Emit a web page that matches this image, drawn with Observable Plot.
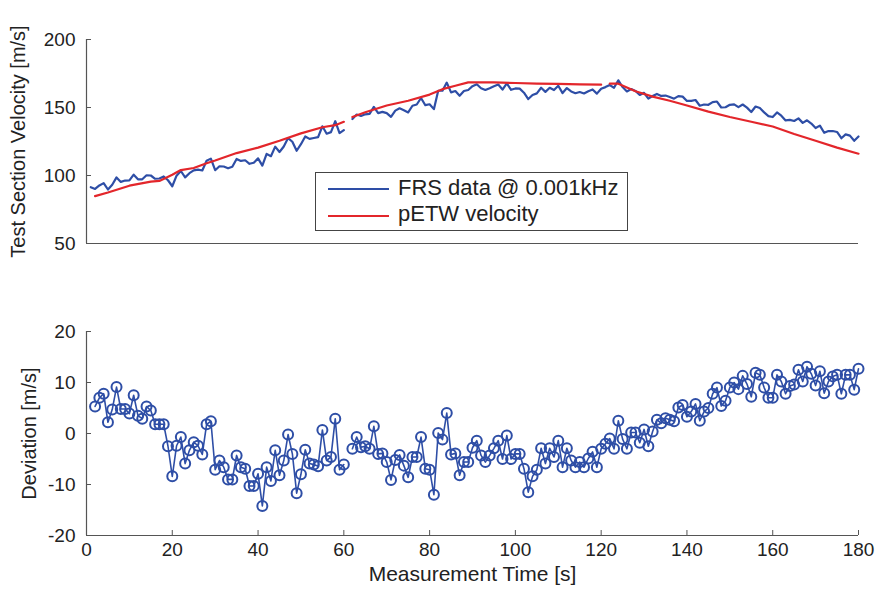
<!DOCTYPE html>
<html>
<head>
<meta charset="utf-8">
<script src="https://cdn.jsdelivr.net/npm/d3@7"></script>
<script src="https://cdn.jsdelivr.net/npm/@observablehq/plot@0.6"></script>
<style>
  html, body { margin: 0; padding: 0; background: #fff; }
  #wrap { position: relative; width: 879px; height: 595px; font-family: "Liberation Sans", Arial, sans-serif; overflow: hidden; }
  #top, #bottom { position: absolute; left: 0; }
  #top { top: 0; }
  #bottom { top: 290px; }
  #legend { position: absolute; left: 315px; top: 172px; width: 313px; height: 59px; border: 1.5px solid #444; background: #fff; box-sizing: border-box; }
  .item { position: absolute; left: 0; font-size: 22px; color: #222; white-space: nowrap; }
  .item .sw { position: absolute; left: 12px; width: 61px; height: 0; border-top: 2.5px solid; }
  .item .lb { position: absolute; left: 82px; }
</style>
</head>
<body>
<div id="wrap">
  <div id="top"></div>
  <div id="bottom"></div>
  <div id="legend">
    <div class="item" style="top:15px"><span class="sw" style="border-color:#2e4ea6;top:0px"></span><span class="lb" style="top:-13px">FRS data @ 0.001kHz</span></div>
    <div class="item" style="top:42px"><span class="sw" style="border-color:#e3262b;top:0px"></span><span class="lb" style="top:-14px">pETW velocity</span></div>
  </div>
</div>
<script>
// Measurement times (s), one sample per second
const timeStart = 1;
// FRS measured test-section velocity [m/s], t = 1..180 (null = no data)
const frsVelocity = [
  91.4, 90.1, 92.7, 94.4, 89.7, 93.2, 98.6, 95.3, 96.3, 96.4,
  100.6, 97.2, 97.2, 100.2, 100.0, 97.6, 97.8, 99.3, 96.5, 92.1,
  99.9, 103.3, 98.6, 101.7, 103.8, 104.3, 103.7, 110.8, 112.4, 103.9,
  106.8, 106.6, 105.3, 106.4, 112.2, 110.7, 111.2, 108.6, 109.4, 112.6,
  107.3, 115.9, 114.2, 121.2, 117.3, 121.3, 127.5, 124.8, 118.2, 123.0,
  128.7, 126.9, 127.6, 128.2, 136.2, 130.7, 131.9, 139.9, 131.2, 133.4,
  null, 141.5, 144.8, 143.8, 145.0, 145.3, 150.5, 145.9, 146.8, 145.9,
  143.1, 147.7, 149.4, 148.0, 146.4, 151.3, 152.2, 157.0, 151.7, 152.4,
  148.8, 162.3, 162.3, 168.3, 161.1, 162.1, 158.6, 162.1, 162.9, 165.7,
  167.1, 164.2, 162.9, 164.2, 165.6, 166.9, 163.2, 167.7, 163.0, 164.0,
  163.9, 160.9, 156.2, 159.2, 160.4, 164.5, 161.5, 164.5, 162.8, 166.0,
  160.6, 164.3, 161.8, 160.5, 161.4, 160.3, 162.0, 163.3, 160.2, 163.8,
  165.0, 166.5, 164.5, 170.0, 165.0, 161.8, 163.6, 162.2, 159.2, 160.8,
  156.5, 158.4, 160.0, 158.5, 158.8, 157.7, 156.5, 158.4, 158.0, 154.8,
  154.9, 155.5, 151.3, 152.2, 152.0, 154.0, 154.4, 150.0, 150.2, 152.0,
  152.3, 150.3, 152.2, 149.9, 146.7, 150.7, 149.6, 146.4, 143.7, 143.0,
  146.4, 144.0, 140.5, 140.9, 140.1, 142.0, 138.7, 140.6, 138.2, 134.9,
  136.7, 131.4, 132.7, 132.7, 132.0, 127.4, 130.2, 129.3, 125.5, 128.7
];
// Deviation FRS - pETW [m/s], t = 1..180 (null = no data)
const deviation = [
  null, 5.3, 7.0, 7.8, 2.2, 4.7, 9.1, 4.8, 4.8, 3.9,
  7.5, 3.5, 2.9, 5.3, 4.5, 1.8, 1.8, 1.8, -2.5, -8.4,
  -2.4, -0.7, -5.9, -3.3, -1.7, -2.4, -4.1, 1.8, 2.4, -7.1,
  -5.3, -6.6, -9.0, -9.0, -4.3, -6.6, -6.9, -10.3, -10.3, -7.9,
  -14.2, -6.6, -9.3, -3.3, -8.2, -5.3, -0.2, -4.0, -11.7, -8.0,
  -3.2, -5.9, -6.1, -6.4, 0.7, -5.3, -4.6, 2.9, -7.1, -6.1,
  null, -3.0, -0.7, -2.7, -2.5, -3.0, 1.4, -4.0, -3.9, -5.6,
  -9.1, -5.2, -4.2, -6.3, -8.6, -4.6, -4.6, -0.7, -6.9, -7.1,
  -12.0, 0.1, -1.2, 4.0, -4.1, -3.9, -8.2, -5.6, -5.6, -2.8,
  -1.4, -4.3, -5.6, -4.3, -2.9, -1.4, -5.0, -0.4, -5.0, -4.0,
  -4.0, -6.9, -11.5, -8.4, -7.1, -2.9, -5.9, -2.9, -4.6, -1.4,
  -6.6, -2.9, -5.3, -6.6, -5.6, -6.6, -4.9, -3.6, -6.6, -3.0,
  -2.0, -1.0, -3.0, 2.5, -1.1, -3.0, 0.2, 0.2, -1.8, 0.8,
  -2.5, 0.4, 2.7, 2.0, 3.0, 2.7, 2.4, 5.1, 5.6, 3.3,
  4.3, 5.8, 2.5, 4.3, 5.0, 7.8, 9.0, 5.4, 6.4, 9.0,
  10.0, 8.7, 11.3, 9.7, 7.2, 11.9, 11.5, 9.0, 7.0, 7.0,
  11.5, 10.2, 7.8, 9.3, 9.6, 12.5, 10.2, 13.1, 11.7, 9.4,
  12.2, 7.9, 10.2, 11.2, 11.5, 7.8, 11.5, 11.5, 8.6, 12.7
];
// pETW velocity [m/s] read at these times (null = gap)
const petwTime = [2, 5, 10, 15, 17, 20, 22, 25, 28, 30, 35, 40, 45, 50, 55, 58, 60, 61, 62, 65, 70, 75, 80, 83, 86, 89, 95, 100, 105, 110, 115, 120, 121, 122, 124, 128, 132, 136, 140, 145, 150, 155, 160, 165, 170, 175, 180];
const petwVelocity = [84.8, 87.5, 92.5, 95.5, 96, 100.5, 104, 105.5, 109, 111, 116.5, 120.5, 125.5, 131, 135.5, 137, 139.5, null, 143, 146.5, 151.5, 155, 159.5, 163.5, 166, 168.5, 168.5, 168, 167.5, 167.3, 167, 166.8, null, 167.5, 167.5, 162, 158, 155, 151.5, 147, 143, 139.5, 136, 130.5, 125.5, 120.5, 116];
// Axis ticks and labels
const velTicks = [50, 100, 150, 200];
const devTicks = [-20, -10, 0, 10, 20];
const timeTicks = [0, 20, 40, 60, 80, 100, 120, 140, 160, 180];
const velLabel = "Test Section Velocity [m/s]";
const devLabel = "Deviation [m/s]";
const timeLabel = "Measurement Time [s]";

const BLUE = "#2e4ea6", RED = "#e3262b", AXIS = "#555", TXT = "#222";
const FONT = "'Liberation Sans', Arial, sans-serif";
const plain = d => String(d);

const frsData = frsVelocity.map((v, i) => ({t: timeStart + i, v}));
const devData = deviation.map((v, i) => ({t: timeStart + i, v}));
const petwData = petwTime.map((t, i) => ({t, v: petwVelocity[i]}));

const topPlot = Plot.plot({
  width: 879, height: 290,
  marginLeft: 86, marginRight: 21, marginTop: 39, marginBottom: 47,
  x: {domain: [0, 180], axis: null},
  y: {domain: [50, 200]},
  style: {fontFamily: FONT, fontSize: "19px", color: TXT, background: "transparent", overflow: "visible"},
  marks: [
    Plot.axisY({ticks: velTicks, tickFormat: plain, tickSize: -5, tickPadding: 16, label: null, stroke: AXIS}),
    Plot.ruleX([0], {stroke: AXIS, strokeWidth: 1.2}),
    Plot.ruleY([50], {stroke: AXIS, strokeWidth: 1.2}),
    Plot.line(frsData, {x: "t", y: "v", stroke: BLUE, strokeWidth: 2.2}),
    Plot.line(petwData, {x: "t", y: "v", stroke: RED, strokeWidth: 2.2}),
    Plot.text([velLabel], {frameAnchor: "left", textAnchor: "middle", rotate: -90, dx: -68, fontSize: 20, fill: TXT})
  ]
});
document.getElementById("top").appendChild(topPlot);

const bottomPlot = Plot.plot({
  width: 879, height: 305,
  marginLeft: 86, marginRight: 21, marginTop: 41, marginBottom: 60,
  x: {domain: [0, 180]},
  y: {domain: [-20, 20]},
  style: {fontFamily: FONT, fontSize: "19px", color: TXT, background: "transparent", overflow: "visible"},
  marks: [
    Plot.axisY({ticks: devTicks, tickFormat: plain, tickSize: -5, tickPadding: 16, label: null, stroke: AXIS}),
    Plot.axisX({ticks: timeTicks, tickFormat: plain, tickSize: -5, tickPadding: 12, label: null, stroke: AXIS}),
    Plot.ruleX([0], {stroke: AXIS, strokeWidth: 1.2}),
    Plot.ruleY([-20], {stroke: AXIS, strokeWidth: 1.2}),
    Plot.line(devData, {x: "t", y: "v", stroke: BLUE, strokeWidth: 1.6}),
    Plot.dot(devData, {x: "t", y: "v", r: 5, stroke: BLUE, strokeWidth: 2, fill: "none"}),
    Plot.text([devLabel], {frameAnchor: "left", textAnchor: "middle", rotate: -90, dx: -57, fontSize: 20, fill: TXT}),
    Plot.text([timeLabel], {frameAnchor: "bottom", dy: 45, fontSize: 21, fill: TXT})
  ]
});
document.getElementById("bottom").appendChild(bottomPlot);
</script>
</body>
</html>
